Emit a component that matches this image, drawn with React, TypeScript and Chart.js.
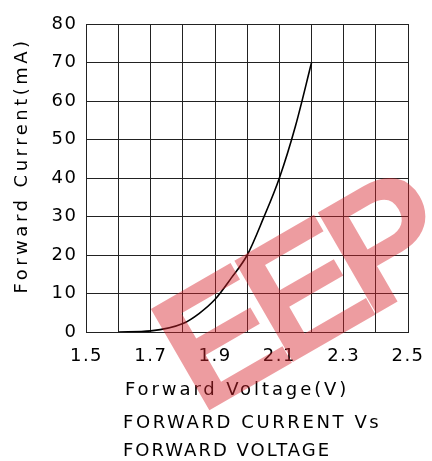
import React, { useEffect, useRef } from 'react';
import { Chart, registerables } from 'chart.js';

Chart.register(...registerables);

// ---- data ----
const voltage = [1.6, 1.7, 1.8, 1.85, 1.9, 1.95, 2.0, 2.05, 2.1, 2.15, 2.2];
const current = [0, 0.3, 2.2, 4.8, 8.5, 14, 20, 29.5, 40, 53.5, 70];
const xMin = 1.5;
const xMax = 2.5;
const xStep = 0.1;
const yMin = 0;
const yMax = 80;
const yStep = 10;
const xTitle = 'Forward Voltage(V)';
const yTitle = 'Forward Current(mA)';
const captionLines = ['FORWARD CURRENT Vs', 'FORWARD VOLTAGE'];
const watermark = 'EEP';

const FONT = '"DejaVu Sans", "Liberation Sans", sans-serif';

const textPlugin = {
  id: 'textPlugin',
  beforeDraw(chart: any) {
    chart.ctx.letterSpacing = '1.5px';
  },
  afterDraw(chart: any) {
    const ctx = chart.ctx as CanvasRenderingContext2D & { letterSpacing: string };
    const { left, bottom } = chart.chartArea;
    ctx.save();
    ctx.fillStyle = '#000';
    ctx.font = `18px ${FONT}`;
    ctx.textAlign = 'left';
    ctx.textBaseline = 'alphabetic';
    ctx.letterSpacing = '2.9px';
    ctx.fillText(xTitle, left + 38.5, bottom + 63);
    ctx.letterSpacing = '2.6px';
    ctx.fillText(captionLines[0], left + 36.5, bottom + 96);
    ctx.letterSpacing = '2.0px';
    ctx.fillText(captionLines[1], left + 36.5, bottom + 124);

    ctx.save();
    ctx.translate(27, bottom - 38.5);
    ctx.rotate(-Math.PI / 2);
    ctx.letterSpacing = '3.5px';
    ctx.fillText(yTitle, 0, 0);
    ctx.restore();

    ctx.save();
    ctx.translate(210, 410);
    ctx.rotate((-30 * Math.PI) / 180);
    ctx.font = `bold 170px "Liberation Sans", sans-serif`;
    ctx.letterSpacing = '-17px';
    ctx.fillStyle = 'rgba(215,35,45,0.45)';
    ctx.fillText(watermark, -12, 0);
    ctx.restore();

    ctx.restore();
  },
};

export default function App() {
  const ref = useRef<HTMLCanvasElement>(null);

  useEffect(() => {
    if (!ref.current) return;
    const chart = new Chart(ref.current, {
      type: 'line',
      data: {
        datasets: [
          {
            data: voltage.map((v, i) => ({ x: v, y: current[i] })),
            borderColor: '#000',
            borderWidth: 1.6,
            pointRadius: 0,
            fill: false,
            cubicInterpolationMode: 'monotone',
          },
        ],
      },
      options: {
        responsive: false,
        animation: false,
        layout: { padding: { top: 24, right: 24, left: 0, bottom: 0 } },
        plugins: {
          legend: { display: false },
          tooltip: { enabled: false },
        },
        scales: {
          x: {
            type: 'linear',
            min: xMin,
            max: xMax,
            afterFit: (s: any) => {
              s.height = 129;
              s.paddingLeft = 0;
              s.paddingRight = 0;
            },
            ticks: {
              stepSize: xStep,
              autoSkip: false,
              maxRotation: 0,
              padding: 14,
              color: '#000',
              font: { family: FONT, size: 18 },
              callback: (v: any) => {
                const n = Math.round(Number(v) * 10);
                return n % 2 === 1 ? (n / 10).toFixed(1) : '';
              },
            },
            grid: { color: '#222', lineWidth: 1, drawTicks: false },
            border: { color: '#222', width: 1 },
          },
          y: {
            min: yMin,
            max: yMax,
            afterFit: (s: any) => {
              s.width = 86.5;
            },
            ticks: {
              stepSize: yStep,
              padding: 9,
              color: '#000',
              font: { family: FONT, size: 18 },
            },
            grid: { color: '#222', lineWidth: 1, drawTicks: false },
            border: { color: '#222', width: 1 },
          },
        },
      },
      plugins: [textPlugin],
    } as any);
    return () => chart.destroy();
  }, []);

  return (
    <div style={{ position: 'absolute', left: 0, top: 0, width: 432, height: 461, background: '#fff' }}>
      <canvas ref={ref} width={432} height={461} style={{ display: 'block' }} />
    </div>
  );
}
